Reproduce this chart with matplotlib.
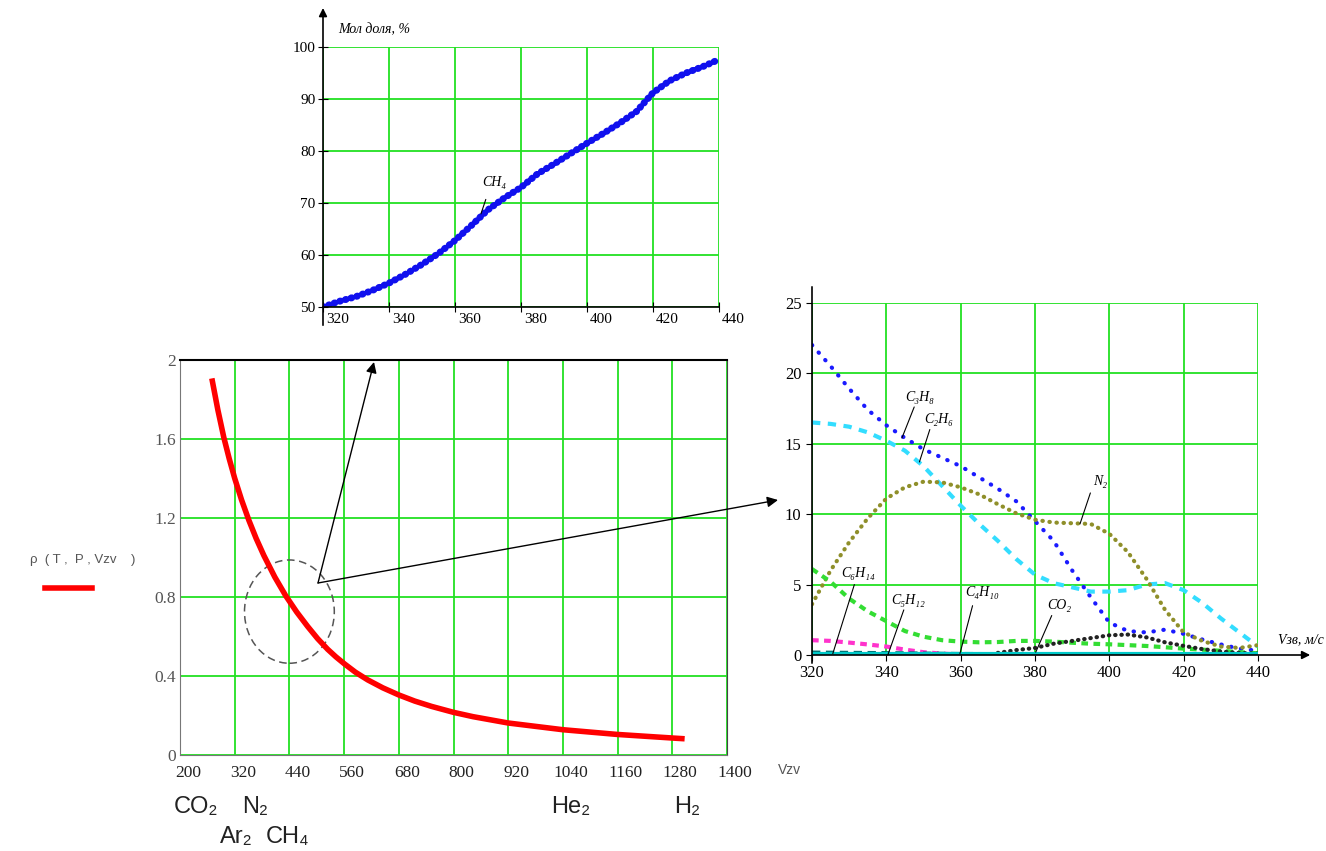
import matplotlib.pyplot as plt
from matplotlib.patches import Ellipse, FancyArrowPatch
from matplotlib.lines import Line2D
from matplotlib.transforms import ScaledTranslation, blended_transform_factory

W, H = 1326, 851

# top chart: CH4 mole fraction (%) vs speed of sound
ch4_v = [320, 325, 330, 335, 340, 345, 350, 355, 360, 365, 370, 375, 380,
         385, 390, 395, 400, 405, 410, 415, 420, 425, 430, 435, 440]
ch4_pct = [50.0, 51.1, 52.0, 53.2, 54.6, 56.3, 58.2, 60.3, 62.8, 65.7, 68.7, 71.0, 73.0,
           75.6, 77.5, 79.5, 81.5, 83.4, 85.4, 87.6, 91.2, 93.5, 95.0, 96.2, 97.6]

# main chart: density vs speed of sound
main_v = [271, 283, 296, 308, 320, 335, 351, 367, 384, 408, 432, 456, 480, 502, 524,
          542, 561, 585, 612, 645, 680, 715, 752, 800, 843, 920, 1040, 1160, 1280, 1301]
main_rho = [1.893, 1.748, 1.609, 1.50, 1.401, 1.292, 1.189, 1.097, 1.01, 0.901, 0.806,
            0.724, 0.651, 0.589, 0.535, 0.497, 0.461, 0.419, 0.38, 0.34, 0.304, 0.273,
            0.246, 0.216, 0.194, 0.162, 0.128, 0.104, 0.086, 0.083]
main_xticks = [200, 320, 440, 560, 680, 800, 920, 1040, 1160, 1280, 1400]
main_yticks = [0, 0.4, 0.8, 1.2, 1.6, 2]
main_ylabels = ["0", "0.4", "0.8", "1.2", "1.6", "2"]

gas_labels = ["CO₂", "N₂", "He₂", "H₂", "Ar₂", "CH₄"]
gas_speed = [235, 365, 1058, 1312, 323, 435]
gas_row = [0, 0, 0, 0, 1, 1]

# right chart: other components (%) vs speed of sound
v5 = [320, 325, 330, 335, 340, 345, 350, 355, 360, 365, 370, 375, 380,
      385, 390, 395, 400, 405, 410, 415, 420, 425, 430, 435, 440]
c3h8 = [22.0, 20.5, 18.9, 17.4, 16.3, 15.4, 14.6, 14.0, 13.4, 12.6, 11.8, 10.9, 9.5,
        8.1, 6.0, 4.1, 2.3, 1.7, 1.6, 1.8, 1.5, 1.1, 0.75, 0.45, 0.3]
c2h6 = [16.5, 16.4, 16.2, 15.8, 15.2, 14.5, 13.4, 12.0, 10.6, 9.3, 8.1, 6.8, 5.7,
        5.1, 4.8, 4.5, 4.5, 4.6, 5.0, 5.1, 4.6, 3.7, 2.6, 1.6, 0.6]
n2 = [3.6, 6.0, 8.0, 9.7, 11.1, 11.9, 12.3, 12.25, 11.9, 11.4, 10.7, 10.05, 9.6,
      9.4, 9.35, 9.3, 8.6, 7.3, 5.4, 3.2, 1.6, 1.0, 0.6, 0.5, 0.7]
c4h10 = [6.1, 5.2, 4.0, 3.1, 2.4, 1.7, 1.3, 1.05, 0.95, 0.9, 0.92, 1.0, 1.0,
         0.95, 0.87, 0.8, 0.76, 0.7, 0.64, 0.55, 0.45, 0.38, 0.3, 0.2, 0.12]
c5h12_v = [320, 325, 330, 335, 340, 345, 350, 355, 358]
c5h12 = [1.05, 1.0, 0.88, 0.75, 0.6, 0.38, 0.2, 0.1, 0.06]
co2_v = [370, 375, 380, 385, 390, 395, 400, 405, 410, 415, 420, 425, 430, 435, 440]
co2 = [0.15, 0.35, 0.5, 0.8, 1.0, 1.2, 1.4, 1.45, 1.25, 0.9, 0.65, 0.42, 0.25, 0.15, 0.1]
c6h14_v = [320, 340, 360, 380, 400, 440]
c6h14 = [0.22, 0.18, 0.12, 0.1, 0.08, 0.05]
other_v = [320, 440]
other = [0.05, 0.05]

GREEN = "#22e022"
SERIF = ["Liberation Serif", "DejaVu Serif"]
SANS = ["Liberation Sans", "DejaVu Sans"]
plt.rcParams["font.family"] = SERIF


def box(l, t, r, b):
    return [l / W, 1 - b / H, (r - l) / W, (b - t) / H]


def px(x, y):
    return (x / W, 1 - y / H)


fig = plt.figure(figsize=(13.26, 8.51), dpi=100)

# ---------- top chart ----------
ax_top = fig.add_axes(box(323, 47, 719, 307))
ax_top.plot(ch4_v, ch4_pct, color="#1010ee", lw=5, linestyle=(0, (0.1, 0.75)),
            dash_capstyle="round")
ax_top.set_xlim(320, 440)
ax_top.set_ylim(50, 100)
ax_top.set_xticks(range(320, 441, 20))
ax_top.set_yticks(range(50, 101, 10))
ax_top.grid(True, color=GREEN, lw=1.3)
ax_top.set_axisbelow(True)
for s in ["top", "right", "left"]:
    ax_top.spines[s].set_visible(False)
ax_top.spines["bottom"].set_color("black")
ax_top.spines["bottom"].set_linewidth(1.2)
ax_top.annotate("", xy=(0, 1.15), xytext=(0, -0.07), xycoords="axes fraction",
                annotation_clip=False,
                arrowprops=dict(arrowstyle="-|>", color="black", lw=1.2,
                                shrinkA=0, shrinkB=0, mutation_scale=12))
ax_top.tick_params(axis="x", direction="inout", length=7, pad=1, labelsize=11)
ax_top.tick_params(axis="y", direction="inout", length=7, pad=2, labelsize=11)
for lab in ax_top.get_xticklabels():
    lab.set_ha("left")
    lab.set_transform(lab.get_transform() + ScaledTranslation(3 / 100, 0, fig.dpi_scale_trans))
ax_top.text(338 / W, 1 - 30 / H, "Мол доля, %", transform=fig.transFigure,
            style="italic", fontsize=10, va="center")
ax_top.text(372, 74.0, "CH₄", style="italic", fontsize=10, ha="center", va="center")
ax_top.annotate("", xy=(367.6, 67.4), xytext=(369.6, 71.2),
                arrowprops=dict(arrowstyle="-", lw=0.8, color="black"))

# ---------- main chart ----------
ax = fig.add_axes(box(180, 360, 727, 755))
ax.plot(main_v, main_rho, color="red", lw=4, solid_joinstyle="round")
ax.set_xlim(200, 1400)
ax.set_ylim(0, 2)
ax.set_xticks(main_xticks)
ax.set_yticks(main_yticks)
ax.set_yticklabels(main_ylabels)
ax.grid(True, color=GREEN, lw=1.3)
ax.set_axisbelow(True)
ax.spines["top"].set_color("black")
ax.spines["top"].set_linewidth(1.5)
ax.spines["right"].set_color("#444444")
ax.spines["left"].set_color("#777777")
ax.spines["bottom"].set_color("#777777")
ax.tick_params(axis="x", length=0, pad=7, labelsize=12.5, labelcolor="#222222")
ax.tick_params(axis="y", length=0, pad=3, labelsize=12.5, labelcolor="#555555")
for lab in ax.get_xticklabels():
    lab.set_transform(lab.get_transform() + ScaledTranslation(8 / 100, 0, fig.dpi_scale_trans))
ax.add_patch(Ellipse((440, 0.726), 197, 0.523, fill=False, ec="#555555", lw=1.1,
                     linestyle=(0, (5, 3))))

trans = blended_transform_factory(ax.transData, ax.transAxes)
for name, v, row in zip(gas_labels, gas_speed, gas_row):
    ax.text(v, -0.131 - 0.076 * row, name, transform=trans, family=SANS,
            fontsize=17, ha="center", va="center", color="#222222")
ax.text(1.115, -0.038, "Vzv", transform=ax.transAxes, family=SANS, fontsize=10,
        color="#555555", ha="center", va="center")

fig.text(30 / W, 1 - 560 / H, "ρ  ( T ,  P , Vzv    )", family=SANS, fontsize=9.5,
         color="#555555", va="center")
fig.add_artist(Line2D([45 / W, 92 / W], [1 - 588 / H, 1 - 588 / H], color="red", lw=4))

for tip in [(374, 362), (778, 500)]:
    fig.add_artist(FancyArrowPatch(px(318, 583), px(*tip), transform=fig.transFigure,
                                   arrowstyle="-|>", mutation_scale=16, color="black",
                                   lw=1, shrinkA=0, shrinkB=0))

# ---------- right chart ----------
axr = fig.add_axes(box(812, 302.7, 1258, 655))
axr.plot(v5, c3h8, color="#1a1aff", lw=3, linestyle=(0, (0.1, 2.3)), dash_capstyle="round")
axr.plot(v5, c2h6, color="#33ddff", lw=3, linestyle=(0, (2, 1.8)))
axr.plot(v5, n2, color="#8f8f2a", lw=3, linestyle=(0, (0.1, 1.6)), dash_capstyle="round")
axr.plot(v5, c4h10, color="#33dd33", lw=3, linestyle=(0, (1.6, 1.3)))
axr.plot(c5h12_v, c5h12, color="#ff33cc", lw=3, linestyle=(0, (1.6, 1.3)))
axr.plot(co2_v, co2, color="#222222", lw=3, linestyle=(0, (0.1, 1.4)), dash_capstyle="round")
axr.plot(c6h14_v, c6h14, color="#007070", lw=2, linestyle=(0, (3, 2)))
axr.plot(other_v, other, color="#00c8c8", lw=3)
axr.set_xlim(320, 440)
axr.set_ylim(0, 25)
axr.set_xticks(range(320, 441, 20))
axr.set_yticks(range(0, 26, 5))
axr.grid(True, color=GREEN, lw=1.3)
axr.set_axisbelow(True)
for s in axr.spines.values():
    s.set_visible(False)
axr.annotate("", xy=(1.117, 0), xytext=(0, 0), xycoords="axes fraction",
             annotation_clip=False,
             arrowprops=dict(arrowstyle="-|>", color="black", lw=1.2,
                             shrinkA=0, shrinkB=0, mutation_scale=12))
axr.annotate("", xy=(0, 1.045), xytext=(0, -0.023), xycoords="axes fraction",
             annotation_clip=False,
             arrowprops=dict(arrowstyle="-", color="black", lw=1.2, shrinkA=0, shrinkB=0))
axr.tick_params(direction="out", length=4, labelsize=12)

labels_r = ["C₃H₈", "C₂H₆", "N₂", "C₆H₁₄", "C₅H₁₂", "C₄H₁₀", "CO₂"]
label_xy = [(349, 18.3), (354.2, 16.7), (397.5, 12.3), (332.4, 5.8),
            (345.8, 3.9), (365.7, 4.4), (386.5, 3.5)]
leader_from = [(347.5, 17.6), (351.7, 16.0), (394.9, 11.5), (331.4, 5.0),
               (344.7, 3.2), (363.2, 3.5), (384.5, 2.8)]
leader_to = [(344.2, 15.4), (348.9, 13.7), (392.1, 9.3), (325.6, 0.1),
             (340.4, 0.0), (359.8, 0.1), (380.2, 0.2)]
for name, xy, a, b in zip(labels_r, label_xy, leader_from, leader_to):
    axr.text(xy[0], xy[1], name, style="italic", fontsize=10, ha="center", va="center")
    axr.annotate("", xy=b, xytext=a, annotation_clip=False,
                 arrowprops=dict(arrowstyle="-", lw=0.8, color="black",
                                 shrinkA=0, shrinkB=0))
axr.text(445.4, 1.06, "Vзв, м/с", style="italic", fontsize=10, va="center",
         clip_on=False)

fig.savefig("out.png", dpi=100, facecolor="white")
